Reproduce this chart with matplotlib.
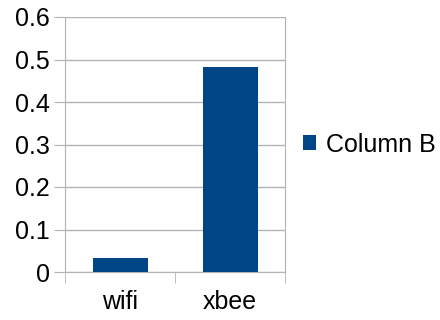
import matplotlib.pyplot as plt
import numpy as np

categories = ['wifi', 'xbee']
values = [0.033, 0.482]
series_name = 'Column B'
yticks = [0, 0.1, 0.2, 0.3, 0.4, 0.5, 0.6]

plt.rcParams['font.family'] = ['Liberation Sans', 'DejaVu Sans']
grid_color = '#b3b3b3'

fig = plt.figure(figsize=(4.4, 3.2), dpi=100)
ax = fig.add_axes([65 / 440, 48 / 320, 220 / 440, 255 / 320])

x = np.arange(len(categories))
ax.bar(x, values, width=0.5, color='#004586', label=series_name, zorder=3)

ax.set_xlim(-0.5, len(categories) - 0.5)
ax.set_ylim(0, 0.6)
ax.set_yticks(yticks)
ax.set_yticklabels(['0' if v == 0 else f'{v:.1f}' for v in yticks])
ax.set_xticks(x)
ax.set_xticklabels(categories)
ax.set_xticks(np.arange(-0.5, len(categories)), minor=True)

ax.grid(axis='y', color=grid_color, linewidth=1, zorder=0)
ax.tick_params(axis='y', length=8, color=grid_color, labelsize=18, pad=3)
ax.tick_params(axis='x', which='major', length=0, labelsize=18, pad=13)
ax.tick_params(axis='x', which='minor', length=8, color=grid_color)
for side in ['left', 'right', 'bottom', 'top']:
    ax.spines[side].set_color(grid_color)
ax.spines['top'].set_visible(False)

ax.legend(loc='center left', bbox_to_anchor=(1.0, 0.5), frameon=False,
          fontsize=18, handlelength=0.55, handleheight=0.55, handletextpad=0.4,
          borderaxespad=0.3)

fig.savefig('out.png', dpi=100)
